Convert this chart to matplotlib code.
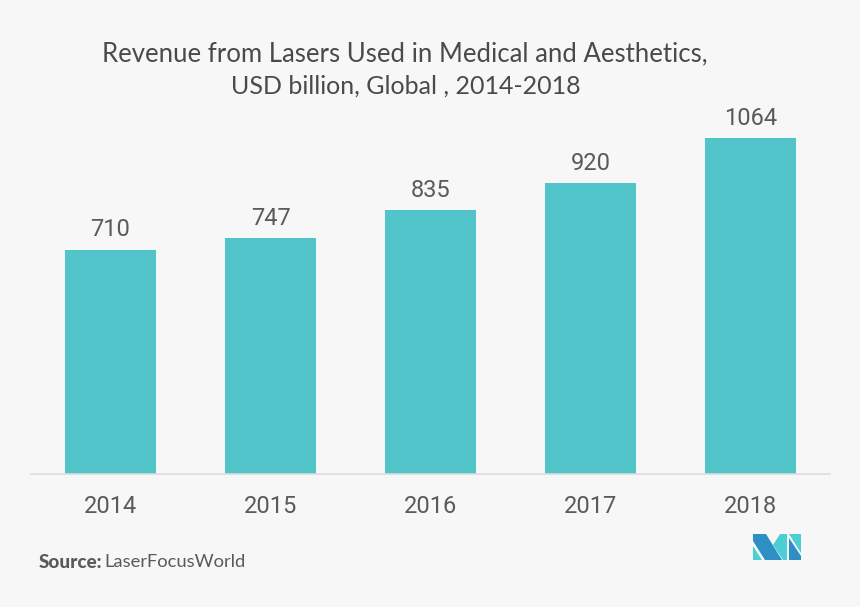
import matplotlib
matplotlib.use("Agg")
import matplotlib.pyplot as plt
from matplotlib.patches import Polygon

years = ["2014", "2015", "2016", "2017", "2018"]
revenue = [710, 747, 835, 920, 1064]

BG = "#f7f7f7"
BAR = "#52c5cb"
TEXT = "#5a5a5a"
W, H = 860, 607

fig = plt.figure(figsize=(W / 100, H / 100), dpi=100, facecolor=BG)

# axes box in pixels: left 31, right 830, baseline 474, top 100
ax = fig.add_axes([31 / W, (H - 474) / H, 799 / W, 374 / H], facecolor=BG)
xs = list(range(len(years)))
bars = ax.bar(xs, revenue, width=0.57, color=BAR, zorder=2)
ax.set_xlim(-0.497, 4.497)
ax.set_ylim(0, 1184)

for s in ["top", "left", "right"]:
    ax.spines[s].set_visible(False)
ax.spines["bottom"].set_color("#dddddd")
ax.spines["bottom"].set_linewidth(1.2)

ax.set_yticks([])
ax.set_xticks(xs)
ax.set_xticklabels(years, fontsize=17, color=TEXT, family="Roboto")
ax.tick_params(axis="x", length=0, pad=15.3)

for x, v in zip(xs, revenue):
    ax.annotate(str(v), (x, v), xytext=(0, 6), textcoords="offset points", ha="center", va="bottom",
                fontsize=17, color=TEXT, family="Roboto")

fig.text(405 / W, 1 - 53.5 / H, "Revenue from Lasers Used in Medical and Aesthetics,", ha="center", va="center",
         fontsize=18.5, color="#4a4a4a", family="Lato")
fig.text(405.5 / W, 1 - 86.5 / H, "USD billion, Global , 2014-2018", ha="center", va="center",
         fontsize=18, color="#4a4a4a", family="Lato")

fig.text(38.5 / W, 1 - 562 / H, "Source:", ha="left", va="center", fontsize=13.6, color=TEXT,
         family="Lato", fontweight="black")
fig.text(104 / W, 1 - 562 / H, "LaserFocusWorld", ha="left", va="center", fontsize=13.2, color=TEXT, family="Lato")

# logo, pixel coordinates
DARK = "#2e8fc4"
LIGHT = "#4ccfd4"
logo = [
    ([(753, 534), (766, 534), (782, 560), (765, 560), (753, 541)], DARK),
    ([(753, 546), (762, 560), (753, 560)], LIGHT),
    ([(780, 534), (787, 534), (787, 560), (783, 560), (773, 545)], LIGHT),
    ([(789, 534), (801, 534), (801, 553)], LIGHT),
    ([(789, 538), (801, 556), (801, 560), (789, 560)], DARK),
]
for pts, col in logo:
    fig.add_artist(Polygon([(x / W, 1 - y / H) for x, y in pts], closed=True, facecolor=col, edgecolor="none",
                           transform=fig.transFigure))

fig.savefig("out.png", dpi=100, facecolor=BG)
